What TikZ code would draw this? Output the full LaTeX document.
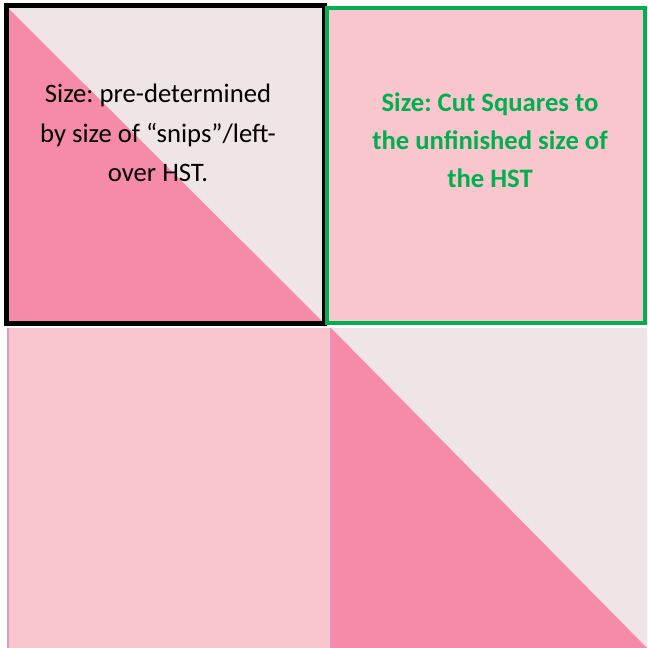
\documentclass[tikz,border=0pt]{standalone}
\usepackage{fontspec}
\setmainfont{Carlito}
\frenchspacing
\definecolor{hstpink}{HTML}{F68BA9}
\definecolor{hstlight}{HTML}{EFE5E7}
\definecolor{sqpink}{HTML}{F8C6CC}
\definecolor{cutgreen}{HTML}{00B050}
\definecolor{seam}{HTML}{D99BC5}
\tikzset{
	label text/.style={anchor=center, align=center, inner sep=0pt, font=\fontsize{20}{29.5}\selectfont},
}
\begin{document}
\begin{tikzpicture}[x=0.75pt, y=-0.75pt]
	\useasboundingbox (0, 0) rectangle (647, 648);
	% Bottom row: plain square and HST
	\fill[sqpink] (8, 328) rectangle (331, 648);
	\draw[seam, line width=0.8pt] (8, 328) -- (8, 648);
	\draw[seam, line width=0.8pt] (331, 328) -- (331, 648);
	\fill[hstlight] (331, 328) -- (647, 328) -- (647, 648) -- cycle;
	\fill[hstpink] (331, 328) -- (331, 648) -- (647, 648) -- cycle;
	% Top row: snips HST and cut square
	\fill[hstlight] (7, 7) -- (324, 7) -- (324, 323) -- cycle;
	\fill[hstpink] (7, 7) -- (7, 323) -- (324, 323) -- cycle;
	\fill[sqpink] (327, 9) rectangle (645, 323);
	\node[shape=rectangle, draw=black, line width=3.3pt, minimum width=318*0.75pt, minimum height=318*0.75pt, inner sep=0pt] (snips) at (165.5, 164.5){};
	\node[shape=rectangle, draw=cutgreen, line width=3.3pt, minimum width=318*0.75pt, minimum height=315*0.75pt, inner sep=0pt] (cut) at (486, 165.5){};
	\node[label text] (snipstext) at (158, 133){Size: pre-determined\\by size of “snips”/left-\\over HST.};
	\node[label text, text=cutgreen, font=\bfseries\fontsize{20}{28.5}\selectfont] (cuttext) at (490, 140){Size: Cut Squares to\\the unfinished size of\\the HST};
\end{tikzpicture}
\end{document}
